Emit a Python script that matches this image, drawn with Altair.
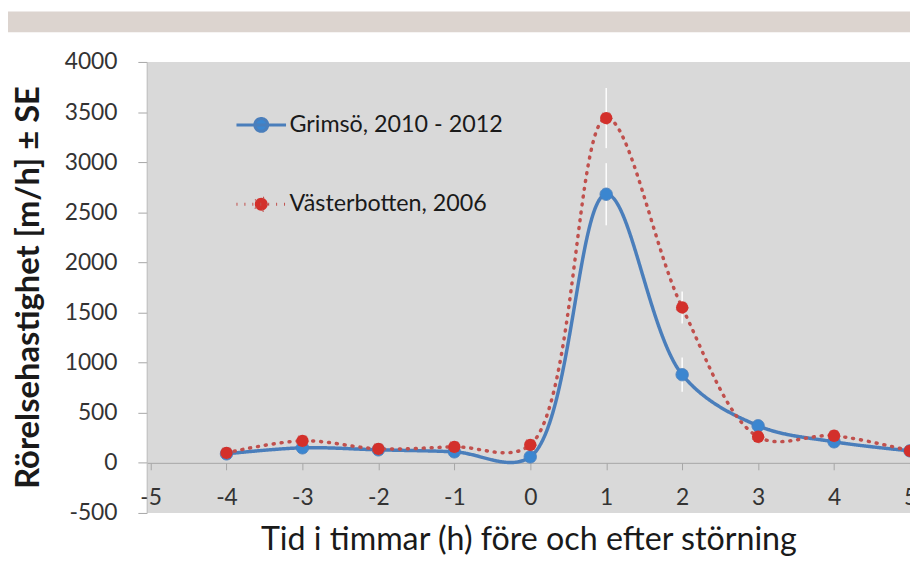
import altair as alt
import pandas as pd

hours = [-4, -3, -2, -1, 0, 1, 2, 3, 4, 5]
grimso = [90, 150, 130, 110, 60, 2680, 880, 370, 210, 120]
grimso_se = [20, 25, 20, 20, 15, 310, 170, 60, 40, 30]
vasterbotten = [100, 220, 140, 160, 180, 3440, 1550, 260, 270, 120]
vasterbotten_se = [20, 30, 20, 25, 20, 300, 160, 40, 40, 30]
series_names = ["Grimsö, 2010 - 2012", "Västerbotten, 2006"]
y_ticks = [-500, 0, 500, 1000, 1500, 2000, 2500, 3000, 3500, 4000]
x_ticks = [-5, -4, -3, -2, -1, 0, 1, 2, 3, 4, 5]

rows = []
for name, vals, ses in [(series_names[0], grimso, grimso_se), (series_names[1], vasterbotten, vasterbotten_se)]:
    for h, v, s in zip(hours, vals, ses):
        rows.append({"series": name, "h": h, "v": v, "lo": v - s, "hi": v + s})
df = pd.DataFrame(rows)

FONT = "Lato"
line_colors = ["#4a7ebb", "#c0504d"]
marker_colors = ["#3b86d0", "#d3302b"]
dashes = [[1, 0], [1, 7]]

xs = alt.Scale(domain=[-5.05, 5.0], nice=False, zero=False)
ys = alt.Scale(domain=[-500, 4000], nice=False, zero=False)

X = alt.X("h:Q", scale=xs,
          axis=alt.Axis(values=x_ticks, title="Tid i timmar (h) före och efter störning",
                        labelExpr="datum.value + ''",
                        offset=-50.56, grid=False, domainColor="#a6a6a6", tickColor="#a6a6a6",
                        tickSize=7, labelPadding=17, labelFontSize=23, labelColor="#333333",
                        labelFont=FONT, titleFont=FONT, titleFontSize=32.5, titleFontWeight="normal",
                        titleColor="#1a1a1a", titleY=87, titleBaseline="alphabetic", labelFlush=False))
Y = alt.Y("v:Q", scale=ys,
          axis=alt.Axis(values=y_ticks, title="Rörelsehastighet [m/h] ± SE", grid=False,
                        labelExpr="datum.value + ''",
                        domainColor="#bfbfbf", tickColor="#a6a6a6", tickSize=9, labelPadding=21,
                        labelFontSize=23, labelColor="#333333", labelFont=FONT, titleFont=FONT,
                        titleFontSize=33, titleFontWeight="bold", titleColor="#1a1a1a",
                        titleX=-119, titleY=227, titleAngle=-90, titleAlign="center",
                        titleBaseline="middle"))

base = alt.Chart(df)

band = alt.Chart(alt.Data(values=[{}])).mark_rect(color="#dcd4cf").encode(
    x=alt.value(-140), x2=alt.value(770), y=alt.value(-51), y2=alt.value(-30))

err = base.mark_rule(color="white", strokeWidth=1.6, opacity=0.9).encode(
    x=X, y=alt.Y("lo:Q", scale=ys), y2="hi:Q")

legend_path = "M-1,0L1,0M0.26,0A0.26,0.26,0,1,1,-0.26,0A0.26,0.26,0,1,1,0.26,0Z"
leg = alt.Legend(title=None, orient="none", legendX=89, legendY=37, symbolType=legend_path,
                 symbolSize=2500, symbolStrokeWidth=3, labelFont=FONT, labelFontSize=23.5,
                 labelColor="#1a1a1a", rowPadding=41, labelOffset=2, padding=0, labelLimit=0)

lines = base.mark_line(interpolate="catmull-rom", strokeWidth=3.5, strokeCap="round", clip=True).encode(
    x=X, y=Y,
    stroke=alt.Stroke("series:N", scale=alt.Scale(domain=series_names, range=line_colors), legend=leg),
    strokeDash=alt.StrokeDash("series:N", scale=alt.Scale(domain=series_names, range=dashes), legend=leg),
)

points = base.mark_point(filled=True, size=155, opacity=1, strokeWidth=1).encode(
    x=X, y=Y,
    fill=alt.Fill("series:N", scale=alt.Scale(domain=series_names, range=marker_colors), legend=leg),
    stroke=alt.Stroke("series:N", scale=alt.Scale(domain=series_names, range=line_colors), legend=leg),
    strokeDash=alt.StrokeDash("series:N", scale=alt.Scale(domain=series_names, range=dashes), legend=leg),
)

chart = alt.layer(band, err, lines, points).properties(
    width=770, height=455,
    autosize=alt.AutoSizeParams(type="none"),
    padding={"left": 140, "top": 52, "right": 0, "bottom": 42},
    background="white",
).configure_view(fill="#d9d9d9", stroke=None)

chart.save("out.html", embed_options={"renderer": "svg", "actions": False})
